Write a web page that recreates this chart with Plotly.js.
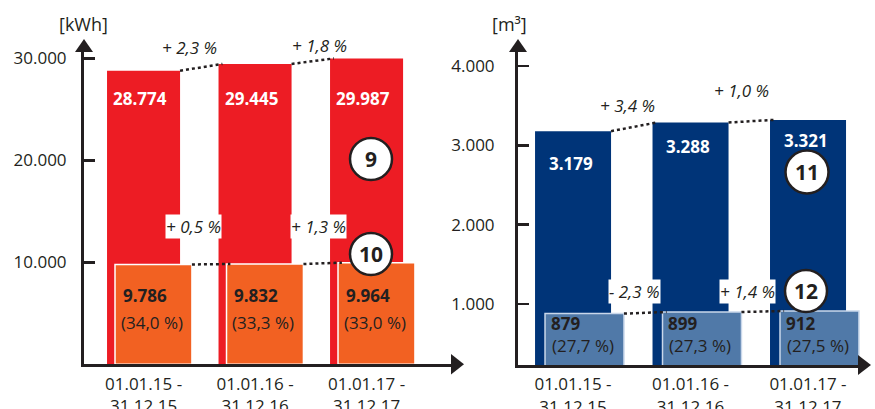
<!DOCTYPE html>
<html><head><meta charset="utf-8">
<script src="https://cdn.plot.ly/plotly-3.0.1.min.js"></script>
<style>html,body{margin:0;padding:0;background:#fff;}#chart{width:875px;height:409px;}</style>
</head><body><div id="chart"></div>
<script>
// ---- data ----
const periodStart = ['01.01.15', '01.01.16', '01.01.17'];
const periodEnd = ['31.12.15', '31.12.16', '31.12.17'];
const electricityTotal = [28774, 29445, 29987];
const electricityPart = [9786, 9832, 9964];
const electricityPartShare = ['(34,0 %)', '(33,3 %)', '(33,0 %)'];
const electricityTotalChange = ['+ 2,3 %', '+ 1,8 %'];
const electricityPartChange = ['+ 0,5 %', '+ 1,3 %'];
const waterTotal = [3179, 3288, 3321];
const waterPart = [879, 899, 912];
const waterPartShare = ['(27,7 %)', '(27,3 %)', '(27,5 %)'];
const waterTotalChange = ['+ 3,4 %', '+ 1,0 %'];
const waterPartChange = ['- 2,3 %', '+ 1,4 %'];
const electricityTicks = [10000, 20000, 30000];
const waterTicks = [1000, 2000, 3000, 4000];
const unitLabels = ['[kWh]', '[m³]'];
const circleLabels = ['9', '10', '11', '12'];

// ---- helpers ----
const W = 875, H = 409;
const px = x => x / W;
const py = y => 1 - y / H;
const fmt = v => String(v).replace(/\B(?=(\d{3})+(?!\d))/g, '.');
const categories = periodStart.map((s, i) => s + ' -<br>' + periodEnd[i]);
const DARK = '#231F20';
const FONT = 'Open Sans, Noto Sans, sans-serif';

// bar geometry (category units)
const geo = {
  red: {w: 0.655, o: -0.3275},
  orange: {w: 0.69, o: -0.256},
  blue: {w: 0.647, o: -0.323},
  light: {w: 0.672, o: -0.238}
};

const traces = [
  {type: 'bar', x: categories, y: electricityTotal, xaxis: 'x', yaxis: 'y',
   width: geo.red.w, offset: geo.red.o, marker: {color: '#ED1C24'}, hoverinfo: 'skip'},
  {type: 'bar', x: categories, y: electricityPart, xaxis: 'x', yaxis: 'y',
   width: geo.orange.w, offset: geo.orange.o, marker: {color: '#F26122', line: {color: '#ffffff', width: 1.5}}, hoverinfo: 'skip'},
  {type: 'bar', x: categories, y: waterTotal, xaxis: 'x2', yaxis: 'y2',
   width: geo.blue.w, offset: geo.blue.o, marker: {color: '#003478'}, hoverinfo: 'skip'},
  {type: 'bar', x: categories, y: waterPart, xaxis: 'x2', yaxis: 'y2',
   width: geo.light.w, offset: geo.light.o, marker: {color: '#5079A8', line: {color: '#C9D7EA', width: 1.5}}, hoverinfo: 'skip'}
];

const axisCommon = {
  showline: true, linecolor: DARK, linewidth: 3, showgrid: false, zeroline: false,
  tickfont: {family: FONT, size: 17, color: DARK}, fixedrange: true
};

const xCommon = Object.assign({}, axisCommon, {type: 'category', ticks: '', ticklabelstandoff: 2});
const yCommon = Object.assign({}, axisCommon, {ticks: 'inside', ticklen: 11, tickwidth: 2.5, tickcolor: DARK});

const layout = {
  width: W, height: H, margin: {l: 0, r: 0, t: 0, b: 0},
  paper_bgcolor: '#ffffff', plot_bgcolor: 'rgba(0,0,0,0)',
  showlegend: false, barmode: 'overlay',
  font: {family: FONT, color: DARK},
  xaxis: Object.assign({}, xCommon, {domain: [px(84), px(460)], range: [-0.534, 2.838], anchor: 'y'}),
  yaxis: Object.assign({}, yCommon, {domain: [py(364.3), py(45)], range: [0, 31300], anchor: 'x',
    tickvals: electricityTicks, ticktext: electricityTicks.map(fmt), ticklabelstandoff: 11}),
  xaxis2: Object.assign({}, xCommon, {domain: [px(518), px(866)], range: [-0.468, 2.494], anchor: 'y2'}),
  yaxis2: Object.assign({}, yCommon, {domain: [py(365), py(45)], range: [231, 4265], anchor: 'x2',
    tickvals: waterTicks, ticktext: waterTicks.map(fmt), ticklabelstandoff: 17}),
  shapes: [],
  annotations: []
};

// arrowheads of the axes
function tri(p1, p2, p3) {
  return {type: 'path', xref: 'paper', yref: 'paper', fillcolor: DARK, line: {width: 0},
    path: `M ${px(p1[0])},${py(p1[1])} L ${px(p2[0])},${py(p2[1])} L ${px(p3[0])},${py(p3[1])} Z`};
}
layout.shapes.push(tri([84, 39], [75, 52], [93, 52]));
layout.shapes.push(tri([518, 39], [509, 52], [527, 52]));
layout.shapes.push(tri([464, 364.3], [451, 354], [451, 374.6]));
layout.shapes.push(tri([871, 365], [858, 355], [858, 375]));

// dotted connectors between bar tops
function connectors(values, g, xref, yref) {
  for (let i = 0; i < values.length - 1; i++) {
    layout.shapes.push({type: 'line', xref: xref, yref: yref,
      x0: i + g.o + g.w, y0: values[i], x1: i + 1 + g.o + 0.035, y1: values[i + 1],
      line: {color: DARK, width: 2.5, dash: 'dot'}});
  }
}
connectors(electricityTotal, geo.red, 'x', 'y');
connectors(electricityPart, geo.orange, 'x', 'y');
connectors(waterTotal, geo.blue, 'x2', 'y2');
connectors(waterPart, geo.light, 'x2', 'y2');

// numbered circles
const circlePos = [[371, 159, 21], [371, 254, 21], [807, 172, 21.5], [806, 291, 21]];
circleLabels.forEach((t, i) => {
  const [cx, cy, r] = circlePos[i];
  layout.shapes.push({type: 'circle', xref: 'paper', yref: 'paper',
    x0: px(cx - r), x1: px(cx + r), y0: py(cy + r), y1: py(cy - r),
    fillcolor: '#ffffff', line: {color: DARK, width: 2.5}});
  layout.annotations.push({xref: 'paper', yref: 'paper', x: px(cx), y: py(cy), text: t, showarrow: false,
    xanchor: 'center', yanchor: 'middle', font: {family: FONT, size: 21, weight: 'bold', color: DARK}});
});

// unit labels
[[83.5, 24], [509.5, 24]].forEach((p, i) => {
  layout.annotations.push({xref: 'paper', yref: 'paper', x: px(p[0]), y: py(p[1]), text: unitLabels[i],
    showarrow: false, xanchor: 'center', yanchor: 'middle', font: {family: FONT, size: 18, color: DARK}});
});

// value labels
function label(xref, i, yPx, text, opts) {
  layout.annotations.push(Object.assign({xref: xref, yref: 'paper', x: categories[i], y: py(yPx), text: text,
    showarrow: false, yanchor: 'middle'}, opts));
}
const whiteBold = {family: FONT, size: 17, weight: 'bold', color: '#ffffff'};
const darkBold = {family: FONT, size: 17, weight: 'bold', color: DARK};
const darkReg = {family: FONT, size: 17, color: DARK};

electricityTotal.forEach((v, i) => label('x', i, 98, fmt(v), {xanchor: 'center', xshift: -4, font: whiteBold}));
electricityPart.forEach((v, i) => label('x', i, 295, fmt(v), {xanchor: 'left', xshift: -23, font: darkBold}));
electricityPartShare.forEach((t, i) => label('x', i, 322, t, {xanchor: 'left', xshift: -25, font: darkReg}));

const waterLabelY = [163, 146, 140];
waterTotal.forEach((v, i) => label('x2', i, waterLabelY[i], fmt(v), {xanchor: 'center', xshift: -2, font: whiteBold}));
waterPart.forEach((v, i) => label('x2', i, 323, fmt(v), {xanchor: 'left', xshift: -24, font: darkBold}));
waterPartShare.forEach((t, i) => label('x2', i, 345, t, {xanchor: 'left', xshift: -23, font: darkReg}));

// change labels
const italic = {family: FONT, size: 17, style: 'italic', color: DARK};
function change(texts, positions, boxed) {
  texts.forEach((t, i) => {
    layout.annotations.push({xref: 'paper', yref: 'paper', x: px(positions[i][0]), y: py(positions[i][1]),
      text: t, showarrow: false, xanchor: 'center', yanchor: 'middle', font: italic,
      bgcolor: boxed ? '#ffffff' : 'rgba(0,0,0,0)', borderpad: 0});
  });
}
change(electricityTotalChange, [[189.5, 48], [319.5, 46]], false);
change(electricityPartChange, [[193, 227], [318, 227]], true);
change(waterTotalChange, [[627, 105], [741, 90]], false);
change(waterPartChange, [[634.5, 291], [747.5, 291]], true);

Plotly.newPlot('chart', traces, layout, {displayModeBar: false, staticPlot: true});
</script>
</body></html>
